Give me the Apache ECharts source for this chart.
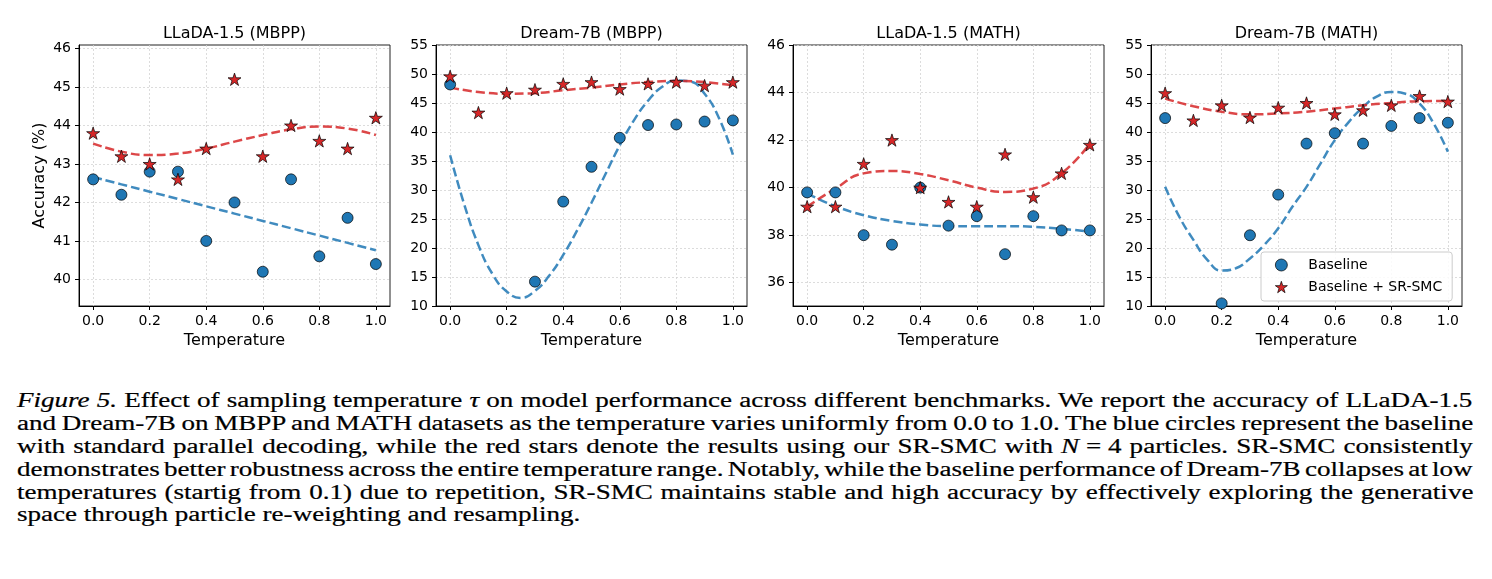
<!DOCTYPE html>
<html>
<head>
<meta charset="utf-8">
<script src="https://cdn.jsdelivr.net/npm/echarts@6/dist/echarts.min.js"></script>
<style>
  html, body { margin: 0; padding: 0; background: #fff; }
  #chart { position: absolute; left: 0; top: 0; width: 1492px; height: 370px; }
  #caption {
    position: absolute; left: 17px; top: 389px; width: 1460px;
    font-family: "Liberation Serif", "Times New Roman", Times, serif; font-size: 20px; color: #000;
    -webkit-text-stroke: 0.2px #000;
  }
  #caption .ln { height: 22.9px; line-height: 22.9px; white-space: nowrap; }
  #caption .ln span { display: inline-block; transform-origin: 0 50%; }
</style>
</head>
<body>
<div id="chart"></div>
<div id="caption"></div>
<script>
// temperatures on the x axis
const temps = [0, 0.1, 0.2, 0.3, 0.4, 0.5, 0.6, 0.7, 0.8, 0.9, 1.0]
const fineTemps = [0, 0.05, 0.1, 0.15, 0.2, 0.25, 0.3, 0.35, 0.4, 0.45, 0.5,
  0.55, 0.6, 0.65, 0.7, 0.75, 0.8, 0.85, 0.9, 0.95, 1.0]
const xTicks = [0, 0.2, 0.4, 0.6, 0.8, 1.0]

// LLaDA-1.5 (MBPP)
const llMbppBase = [42.6, 42.2, 42.8, 42.8, 41.0, 42.0, 40.2, 42.6, 40.6, 41.6, 40.4]
const llMbppSmc = [43.8, 43.2, 43.0, 42.6, 43.4, 45.2, 43.2, 44.0, 43.6, 43.4, 44.2]
const llMbppBaseFit = [42.66, 42.47, 42.28, 42.09, 41.9, 41.71, 41.52, 41.33, 41.14, 40.95, 40.76]
const llMbppSmcFit = [43.53, 43.32, 43.23, 43.27, 43.4, 43.58, 43.75, 43.9, 43.97, 43.92, 43.75]
const llMbppTicks = [40, 41, 42, 43, 44, 45, 46]

// Dream-7B (MBPP), points below the axis are not shown
const dreamMbppBase = [48.2, null, null, 14.2, 28.0, 34.0, 39.0, 41.2, 41.3, 41.8, 42.0]
const dreamMbppSmc = [49.6, 43.35, 46.7, 47.3, 48.3, 48.6, 47.4, 48.3, 48.6, 48.0, 48.6]
const dreamMbppBaseFit = [36.0, 27.5, 20.5, 15.5, 12.5, 11.4, 12.6, 15.2, 18.8, 23.1, 27.8,
  32.8, 37.7, 42.0, 45.4, 47.8, 48.9, 48.7, 46.6, 42.5, 36.1]
const dreamMbppSmcFit = [47.65, 46.9, 46.6, 46.7, 47.2, 47.65, 48.2, 48.6, 48.8, 48.6, 48.05]
const dreamTicks = [10, 15, 20, 25, 30, 35, 40, 45, 50, 55]

// LLaDA-1.5 (MATH)
const llMathBase = [39.8, 39.8, 38.0, 37.6, 40.0, 38.4, 38.8, 37.2, 38.8, 38.2, 38.2]
const llMathSmc = [39.2, 39.2, 41.0, 42.0, 40.0, 39.4, 39.2, 41.4, 39.6, 40.6, 41.8]
const llMathBaseFit = [39.75, 39.22, 38.84, 38.6, 38.45, 38.38, 38.38, 38.38, 38.35, 38.27, 38.14]
const llMathSmcFit = [39.2, 39.96, 40.6, 40.7, 40.57, 40.31, 40.0, 39.82, 39.96, 40.6, 41.85]
const llMathTicks = [36, 38, 40, 42, 44, 46]

// Dream-7B (MATH)
const dreamMathBase = [42.4, null, 10.45, 22.2, 29.2, 38.0, 39.8, 38.0, 41.05, 42.4, 41.6]
const dreamMathSmc = [46.7, 42.0, 44.6, 42.5, 44.2, 45.0, 43.05, 43.75, 44.6, 46.2, 45.25]
const dreamMathBaseFit = [30.55, 25.4, 21.4, 17.9, 16.1, 16.5, 18.2, 20.5, 23.4, 27.1, 30.55,
  34.6, 38.6, 41.75, 44.3, 46.15, 46.9, 46.6, 44.9, 41.45, 36.6]
const dreamMathSmcFit = [45.75, 44.45, 43.5, 43.05, 43.2, 43.5, 44.05, 44.6, 45.0, 45.3, 45.35]

const captionLines = [
  '<i>Figure 5.</i> Effect of sampling temperature <i>τ</i> on model performance across different benchmarks. We report the accuracy of LLaDA-1.5',
  'and Dream-7B on MBPP and MATH datasets as the temperature varies uniformly from 0.0 to 1.0. The blue circles represent the baseline',
  'with standard parallel decoding, while the red stars denote the results using our SR-SMC with <i>N</i>\u2005=\u20054 particles. SR-SMC consistently',
  'demonstrates better robustness across the entire temperature range. Notably, while the baseline performance of Dream-7B collapses at low',
  'temperatures (startig from 0.1) due to repetition, SR-SMC maintains stable and high accuracy by effectively exploring the generative',
  'space through particle re-weighting and resampling.',
]

const STAR = 'path://M0,-10L2.245,-3.09L9.511,-3.09L3.633,1.18L5.878,8.09L0,3.82L-5.878,8.09L-3.633,1.18L-9.511,-3.09L-2.245,-3.09Z'
const FONT = 'DejaVu Sans'
const BLUE = '#1f77b4'
const RED = '#d62728'

const panels = [
  { title: 'LLaDA-1.5 (MBPP)', base: llMbppBase, smc: llMbppSmc, baseFit: llMbppBaseFit, fitX: temps,
    smcFit: llMbppSmcFit, yMin: 39.31, yMax: 46.09, yTicks: llMbppTicks, left: 79 },
  { title: 'Dream-7B (MBPP)', base: dreamMbppBase, smc: dreamMbppSmc, baseFit: dreamMbppBaseFit, fitX: fineTemps,
    smcFit: dreamMbppSmcFit, yMin: 10, yMax: 55, yTicks: dreamTicks, left: 436 },
  { title: 'LLaDA-1.5 (MATH)', base: llMathBase, smc: llMathSmc, baseFit: llMathBaseFit, fitX: temps,
    smcFit: llMathSmcFit, yMin: 35.02, yMax: 46, yTicks: llMathTicks, left: 793 },
  { title: 'Dream-7B (MATH)', base: dreamMathBase, smc: dreamMathSmc, baseFit: dreamMathBaseFit, fitX: fineTemps,
    smcFit: dreamMathSmcFit, yMin: 10, yMax: 55, yTicks: dreamTicks, left: 1151 },
]

const GRID_TOP = 45
const GRID_W = 311
const GRID_H = 261

const zip = (xs, ys) => xs.map((x, i) => [x, ys[i]]).filter(p => p[1] != null)

const labelStyle = { fontFamily: FONT, fontSize: 14, color: '#000' }
const gridLine = { show: true, lineStyle: { color: '#d4d4d4', type: [2, 2], width: 0.8 } }

const option = {
  animation: false,
  title: panels.map(p => ({
    text: p.title, left: p.left + GRID_W / 2, top: 26, textAlign: 'center', padding: 0,
    textStyle: { fontFamily: FONT, fontSize: 16, fontWeight: 'normal', color: '#000' },
  })),
  legend: {
    orient: 'vertical', left: 1261, top: 252, padding: [6, 10, 7, 14], itemGap: 8,
    itemWidth: 12, itemHeight: 12, selectedMode: false,
    backgroundColor: 'rgba(255,255,255,0.85)', borderColor: '#cccccc', borderWidth: 1, borderRadius: 3,
    itemStyle: { borderColor: '#000', borderWidth: 0.7 },
    textStyle: { fontFamily: FONT, fontSize: 14, color: '#000', padding: [0, 0, 0, 16] },
    data: [{ name: 'Baseline', icon: 'circle' }, { name: 'Baseline + SR-SMC', icon: STAR }],
  },
  grid: panels.map(p => ({
    left: p.left, top: GRID_TOP, width: GRID_W, height: GRID_H,
    show: true, borderColor: '#222', borderWidth: 1, backgroundColor: 'transparent',
  })),
  xAxis: panels.map((p, i) => ({
    gridIndex: i, type: 'value', min: -0.05, max: 1.05,
    name: 'Temperature', nameLocation: 'middle', nameGap: 24,
    nameTextStyle: { fontFamily: FONT, fontSize: 16, color: '#000' },
    axisLine: { show: true, onZero: false, lineStyle: { color: '#000', width: 1 } },
    axisTick: { show: true, length: 4, customValues: xTicks, lineStyle: { color: '#000' } },
    axisLabel: { ...labelStyle, margin: 8, customValues: xTicks, formatter: v => v.toFixed(1) },
    splitLine: gridLine,
  })),
  yAxis: panels.map((p, i) => ({
    gridIndex: i, type: 'value', min: p.yMin, max: p.yMax,
    name: i === 0 ? 'Accuracy (%)' : '', nameLocation: 'middle', nameGap: 31,
    nameTextStyle: { fontFamily: FONT, fontSize: 16, color: '#000' },
    axisLine: { show: true, onZero: false, lineStyle: { color: '#000', width: 1 } },
    axisTick: { show: true, length: 4, customValues: p.yTicks, lineStyle: { color: '#000' } },
    axisLabel: { ...labelStyle, margin: 8, customValues: p.yTicks, formatter: v => String(v) },
    splitLine: gridLine,
  })),
  series: panels.flatMap((p, i) => [
    {
      name: 'baseline fit', type: 'line', xAxisIndex: i, yAxisIndex: i, data: zip(p.fitX, p.baseFit),
      smooth: true, showSymbol: false, symbol: 'none', silent: true, z: 2,
      lineStyle: { color: BLUE, width: 2.5, type: [9, 4], opacity: 0.85 },
    },
    {
      name: 'smc fit', type: 'line', xAxisIndex: i, yAxisIndex: i, data: zip(temps, p.smcFit),
      smooth: true, showSymbol: false, symbol: 'none', silent: true, z: 2,
      lineStyle: { color: RED, width: 2.5, type: [9, 4], opacity: 0.85 },
    },
    {
      name: 'Baseline', type: 'scatter', xAxisIndex: i, yAxisIndex: i, data: zip(temps, p.base),
      symbol: 'circle', symbolSize: 11, z: 3,
      itemStyle: { color: BLUE, borderColor: '#000', borderWidth: 0.7, opacity: 1 },
    },
    {
      name: 'Baseline + SR-SMC', type: 'scatter', xAxisIndex: i, yAxisIndex: i, data: zip(temps, p.smc),
      symbol: STAR, symbolSize: 13, symbolKeepAspect: true, z: 4,
      itemStyle: { color: RED, borderColor: '#000', borderWidth: 0.7, opacity: 1 },
    },
  ]),
}

const chart = echarts.init(document.getElementById('chart'), null, { renderer: 'canvas' })
chart.setOption(option)

// caption: justified lines, glyphs widened like the source figure
const caption = document.getElementById('caption')
const spans = captionLines.map(html => {
  const ln = document.createElement('div')
  ln.className = 'ln'
  const sp = document.createElement('span')
  sp.innerHTML = html
  ln.appendChild(sp)
  caption.appendChild(ln)
  return sp
})
const LINE_W = 1456
const LAST_W = 564
const widths = spans.map(s => s.offsetWidth)
const scale = LAST_W / widths[widths.length - 1]
spans.forEach((s, i) => {
  if (i < spans.length - 1) {
    const gaps = captionLines[i].split(' ').length - 1
    s.style.wordSpacing = ((LINE_W / scale - widths[i]) / gaps) + 'px'
  }
  s.style.transform = 'scaleX(' + scale + ')'
})
</script>
</body>
</html>
